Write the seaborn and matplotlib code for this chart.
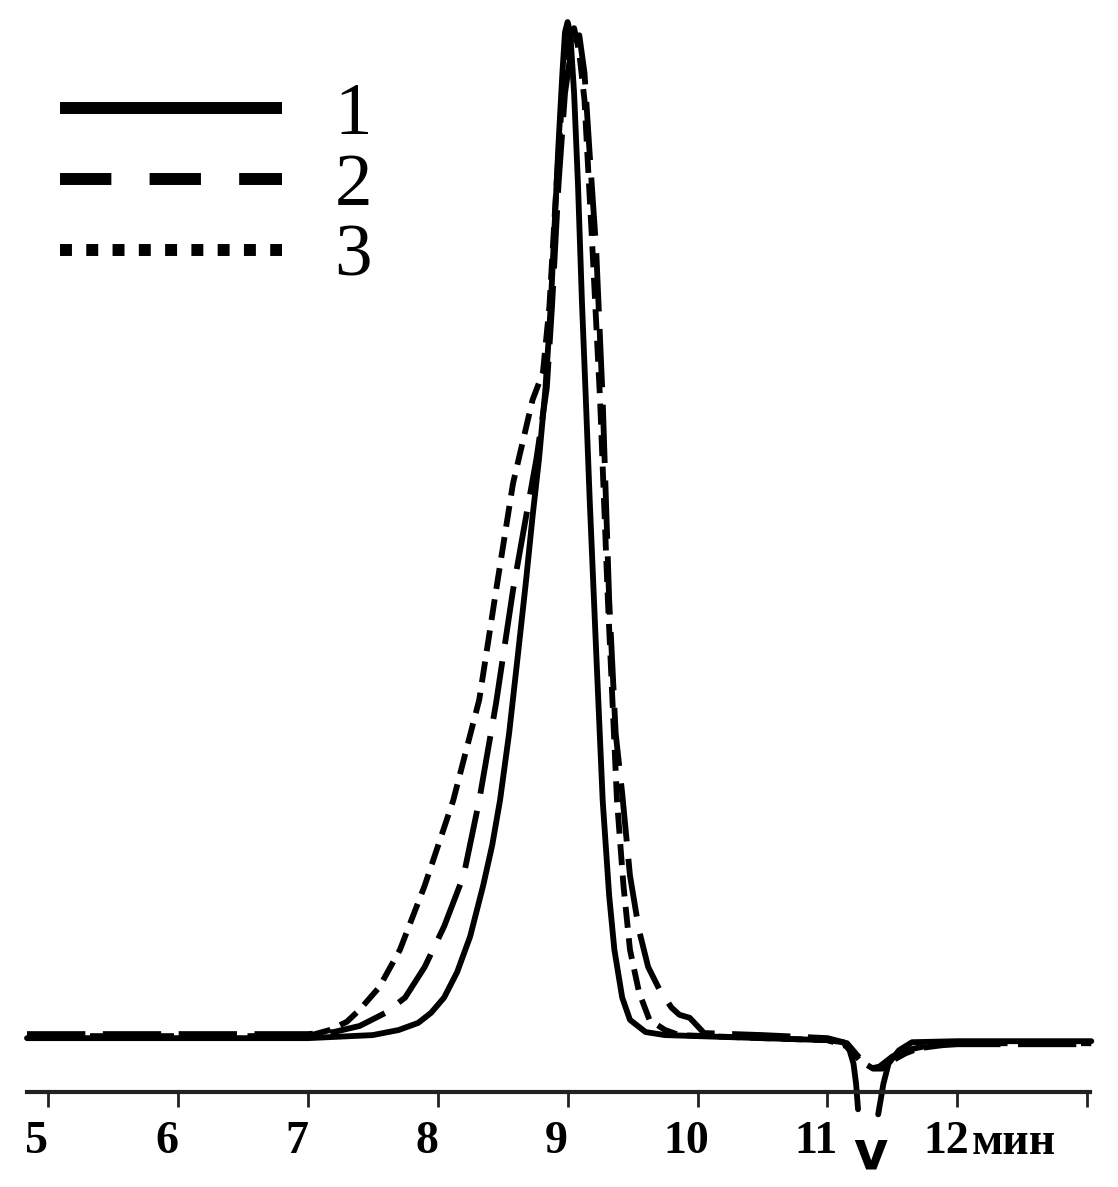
import numpy as np
import pandas as pd
import matplotlib
matplotlib.use("Agg")
import matplotlib.pyplot as plt
from matplotlib.lines import Line2D
from matplotlib.transforms import ScaledTranslation
import seaborn as sns

# -----------------------------
# Data
# -----------------------------
x1 = [4.84, 7.0, 7.5, 7.7, 7.85, 7.95, 8.05, 8.15, 8.25, 8.35, 8.42, 8.48, 8.55, 8.62,
      8.68, 8.73, 8.78, 8.83, 8.87, 8.9, 8.93, 8.96, 8.98, 9.0, 9.02, 9.05, 9.08, 9.11,
      9.14, 9.17, 9.22, 9.27, 9.32, 9.36, 9.42, 9.48, 9.6, 9.75, 10.0, 10.5, 11.0, 11.12,
      11.17, 11.2, 11.22, 11.235,
      np.nan, 11.39, 11.43, 11.47, 11.55, 11.65, 12.0, 13.03]
y1 = [0.0, 0.0, 0.003, 0.008, 0.015, 0.025, 0.04, 0.065, 0.1, 0.15, 0.19, 0.234, 0.3, 0.38,
      0.45, 0.513, 0.57, 0.64, 0.72, 0.8, 0.88, 0.95, 0.99, 1.0, 0.99, 0.93, 0.84, 0.726,
      0.63, 0.53, 0.38, 0.234, 0.14, 0.087, 0.04, 0.018, 0.006, 0.003, 0.002, 0.0, -0.002,
      -0.004, -0.012, -0.025, -0.045, -0.07,
      np.nan, -0.075, -0.045, -0.025, -0.012, -0.004, -0.003, -0.003]

x2 = [4.84, 7.0, 7.2, 7.4, 7.6, 7.75, 7.9, 8.05, 8.2, 8.32, 8.45, 8.58, 8.68, 8.76, 8.84,
      8.88, 8.93, 8.98, 9.03, 9.09, 9.13, 9.17, 9.22, 9.27, 9.32, 9.37, 9.42, 9.48, 9.55,
      9.62, 9.71, 9.8, 9.86, 9.94, 10.05, 10.5, 11.0, 11.15, 11.25, 11.33, 11.4, 11.5,
      11.6, 11.75, 12.0, 13.03]
y2 = [0.004, 0.004, 0.006, 0.012, 0.025, 0.04, 0.07, 0.11, 0.16, 0.234, 0.33, 0.441, 0.513,
      0.57, 0.64, 0.72, 0.84, 0.93, 0.975, 0.987, 0.95, 0.87, 0.776, 0.628, 0.431, 0.3,
      0.241, 0.16, 0.106, 0.07, 0.047, 0.03, 0.023, 0.02, 0.005, 0.003, 0.0, -0.005, -0.02,
      -0.03, -0.028, -0.018, -0.012, -0.008, -0.006, -0.006]

x3 = [4.84, 7.0, 7.17, 7.3, 7.4, 7.55, 7.71, 7.9, 8.12, 8.32, 8.45, 8.58, 8.73, 8.81, 8.86,
      8.91, 8.96, 9.01, 9.05, 9.09, 9.13, 9.19, 9.25, 9.31, 9.38, 9.43, 9.48, 9.55, 9.63,
      9.75, 9.86, 10.5, 11.0, 11.15, 11.25, 11.35, 11.42, 11.5, 11.6, 11.7, 12.0, 13.03]
y3 = [0.002, 0.002, 0.008, 0.016, 0.028, 0.05, 0.087, 0.15, 0.234, 0.333, 0.441, 0.546,
      0.628, 0.655, 0.72, 0.83, 0.93, 0.98, 0.994, 0.97, 0.923, 0.78, 0.628, 0.431, 0.234,
      0.15, 0.087, 0.045, 0.018, 0.008, 0.003, 0.0, -0.002, -0.008, -0.022, -0.03, -0.03,
      -0.022, -0.015, -0.01, -0.005, -0.005]

labels = ["1", "2", "3"]
tick_vals = [5, 6, 7, 8, 9, 10, 11, 12, 13]
tick_labels = ["5", "6", "7", "8", "9", "10", "11", "12", ""]

# -----------------------------
# Figure
# -----------------------------
sns.set_theme(style="white")
plt.rcParams["font.family"] = ["Liberation Serif", "DejaVu Serif"]
plt.rcParams["text.color"] = "black"
plt.rcParams["xtick.color"] = "black"

fig = plt.figure(figsize=(11.18, 11.87), dpi=100)
ax = fig.add_axes([27 / 1118, 95 / 1187, 1063 / 1118, 1092 / 1187])

styles = [
    dict(linestyle="-"),
    dict(linestyle=(0, (10, 3))),
    dict(linestyle=(0, (3.6, 1.8))),
]

for xs, ys, st in zip([x1, x2, x3], [y1, y2, y3], styles):
    df = pd.DataFrame({"t": xs, "s": ys})
    df["seg"] = df["t"].isna().cumsum()
    for _, part in df.dropna().groupby("seg"):
        sns.lineplot(data=part, x="t", y="s", ax=ax, color="black",
                     linewidth=4.2, sort=False, clip_on=False, **st)

ax.set_xlim(4.84, 13.02)
ax.set_ylim(-0.053, 1.0217)

sns.despine(ax=ax, left=True, top=True, right=True)
ax.spines["bottom"].set_linewidth(3)
ax.spines["bottom"].set_color("#222222")
ax.set_yticks([])
ax.set_xticks(tick_vals)
ax.set_xticklabels(tick_labels, fontsize=33, fontweight="bold", color="black")
ax.tick_params(axis="x", direction="out", length=11, width=2, color="#222222",
               pad=10, bottom=True)
ax.set_xlabel("")
ax.set_ylabel("")

for lab in ax.get_xticklabels():
    lab.set_transform(lab.get_transform() + ScaledTranslation(-8 / 72, 0, fig.dpi_scale_trans))

ax.annotate("мин", xy=(12, 0), xycoords=("data", "axes fraction"),
            xytext=(10, -45), textcoords="offset points",
            ha="left", va="baseline", fontsize=33, fontweight="bold")
ax.annotate("v", xy=(11.33, 0), xycoords=("data", "axes fraction"),
            xytext=(0, -55), textcoords="offset points",
            ha="center", va="baseline", fontsize=38, fontweight="bold",
            family="DejaVu Sans")

# legend
handles = [
    Line2D([], [], color="black", linewidth=8.6, linestyle="-", solid_capstyle="butt"),
    Line2D([], [], color="black", linewidth=8.6, linestyle=(0, (4.3, 3.2)), dash_capstyle="butt"),
    Line2D([], [], color="black", linewidth=8.6, linestyle=(0, (1.0, 1.2)), dash_capstyle="butt"),
]
leg = ax.legend(handles, labels, loc="upper left", bbox_to_anchor=(0.031, 0.925),
                frameon=False, fontsize=54, handlelength=2.96, handletextpad=0.7,
                labelspacing=0.03, borderpad=0, borderaxespad=0)
for t in leg.get_texts():
    t.set_color("black")

fig.savefig("out.png", dpi=100)
